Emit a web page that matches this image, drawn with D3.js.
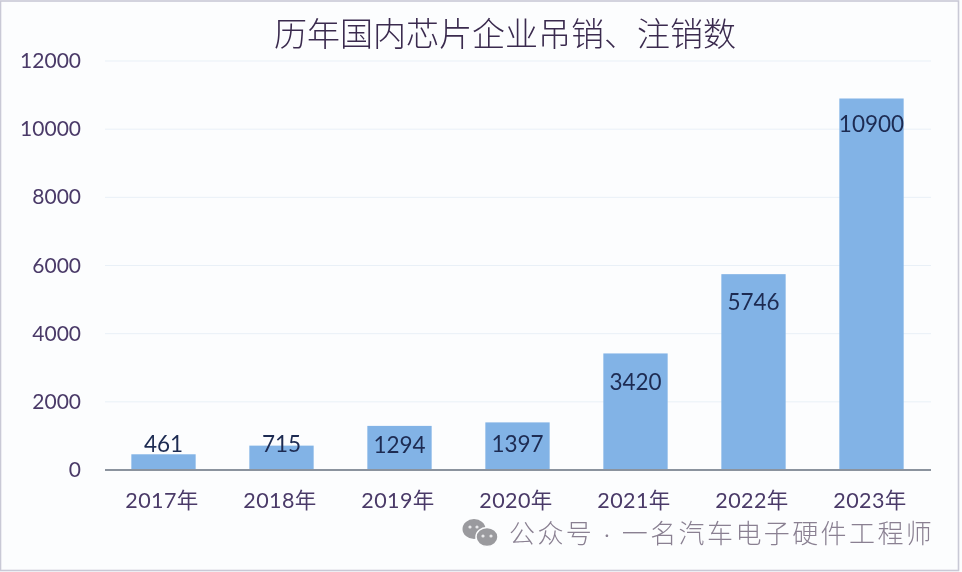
<!DOCTYPE html>
<html><head><meta charset="utf-8">
<script src="https://cdn.jsdelivr.net/npm/d3@7"></script>
<style>html,body{margin:0;padding:0;background:#fff}svg{display:block;filter:blur(.4px)}
text{font-family:Lato,"Noto Sans CJK SC",sans-serif}</style>
</head><body><svg id="c" width="962" height="572"></svg>
<script>
const titleText = "历年国内芯片企业吊销、注销数";
const categories = ["2017年","2018年","2019年","2020年","2021年","2022年","2023年"];
const values = [461,715,1294,1397,3420,5746,10900];
const yTicks = [0,2000,4000,6000,8000,10000,12000];
const watermark = "公众号 · 一名汽车电子硬件工程师";

const svg = d3.select("#c");
const x = d3.scaleBand().domain(categories).range([105,931]).paddingInner(0.455).paddingOuter(0.2275);
const y = d3.scaleLinear().domain([0,12000]).range([470,61]);

// frame
svg.append("rect").attr("width",962).attr("height",572).attr("fill","#fcfdfe");
svg.append("rect").attr("x",.5).attr("y",1).attr("width",958).attr("height",569.5)
  .attr("fill","none").attr("stroke","#c9c9d6").attr("stroke-width",1.6);

// title
svg.append("text").attr("x",505).attr("y",46).attr("text-anchor","middle")
  .attr("font-size",33).attr("fill","#3a2a4e").style("font-weight",300).text(titleText);

// grid
svg.append("g").selectAll("line").data(yTicks.slice(1)).join("line")
  .attr("x1",105).attr("x2",931).attr("y1",d=>y(d)).attr("y2",d=>y(d))
  .attr("stroke","#e9f0f7").attr("stroke-width",1);

// y axis
const yAxis = svg.append("g").attr("transform","translate(81,0)")
  .call(d3.axisLeft(y).tickValues(yTicks).tickFormat(d3.format("d")).tickSize(0).tickPadding(0));
yAxis.select(".domain").remove();
yAxis.selectAll("text").attr("font-size",21).attr("fill","#4a3a68").attr("dy","0.31em");

// bars
svg.append("g").selectAll("rect").data(values).join("rect")
  .attr("x",(d,i)=>x(categories[i])-.5).attr("width",x.bandwidth())
  .attr("y",d=>y(d)).attr("height",d=>y(0)-y(d)).attr("fill","#82b3e6");

// baseline
svg.append("line").attr("x1",105).attr("x2",931).attr("y1",470).attr("y2",470)
  .attr("stroke","#8b939e").attr("stroke-width",2);

// x axis
const xAxis = svg.append("g").attr("transform","translate(-2,470)")
  .call(d3.axisBottom(x).tickSize(0).tickPadding(0));
xAxis.select(".domain").remove();
xAxis.selectAll("text").attr("font-size",21.5).attr("fill","#4a3a68").attr("y",38).attr("dy",0)
  .style("letter-spacing","0.4px");

// value labels: sit above short bars, inside the top of taller ones
const labelShift = d => d < 500 ? -18 : d < 1000 ? -10 : d < 1350 ? 11 : d < 2000 ? 14 : d < 5000 ? 21 : d < 10000 ? 20 : 18;
svg.append("g").selectAll("text").data(values).join("text")
  .attr("x",(d,i)=>x(categories[i])+x.bandwidth()/2-.5)
  .attr("y",d=>y(d)+labelShift(d)+16)
  .attr("text-anchor","middle").attr("font-size",22.5).attr("fill","#1d2b52").text(d=>d);

// watermark
const icon = svg.append("g").attr("fill","#9a9a9e");
icon.append("ellipse").attr("cx",474).attr("cy",529).attr("rx",11.5).attr("ry",10);
icon.append("ellipse").attr("cx",487).attr("cy",537).attr("rx",11).attr("ry",9.5).attr("stroke","#fcfdfe").attr("stroke-width",1.5);
const eyes = [[470,527],[477,527],[483,536],[491,536]];
icon.selectAll("circle").data(eyes).join("circle")
  .attr("cx",d=>d[0]).attr("cy",d=>d[1]).attr("r",1.6).attr("fill","#e8e8ea");
svg.append("text").attr("x",509).attr("y",543).attr("font-size",26)
  .style("letter-spacing","2.4px")
  .attr("fill","#8a8092").style("font-weight",300).text(watermark);
</script></body></html>
